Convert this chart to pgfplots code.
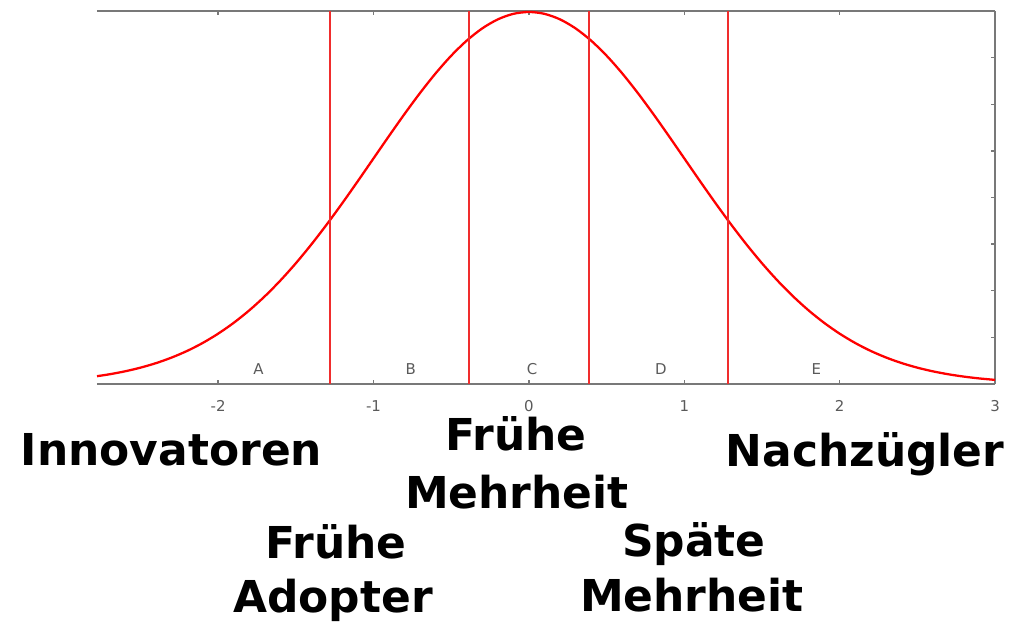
\documentclass[border=0pt]{standalone}
\usepackage{fontspec}
\setmainfont{DejaVu Sans}
\newfontfamily\tickfont{DejaVu Sans}
\usepackage{pgfplots}
\pgfplotsset{compat=1.18}

\definecolor{axisgray}{RGB}{120,120,120}
\definecolor{labelgray}{RGB}{90,90,90}
\definecolor{curvered}{RGB}{255,0,0}
\definecolor{linered}{RGB}{240,45,45}

\newcommand{\biglabel}{\fontsize{25}{30}\selectfont\bfseries}
\newcommand{\smalllabel}{\tickfont\fontsize{8.5}{10}\selectfont}

\begin{document}
\begin{tikzpicture}
\begin{axis}[
    name=ax, at={(0,0)}, anchor=south west,
    scale only axis,
    width=17.96cm, height=7.46cm,
    xmin=-2.78, xmax=3,
    ymin=0, ymax=0.4,
    axis x line=box,
    axis y line*=right,
    axis line style={axisgray, line width=1.1pt},
    tick align=inside,
    major tick length=0.08cm,
    tick style={axisgray, line width=0.8pt},
    xtick={-2,-1,0,1,2,3},
    xtick pos=both,
    ytick={0.05,0.10,0.15,0.20,0.25,0.30,0.35},
    yticklabels={},
    /pgf/number format/assume math mode=true,
    xticklabel style={font=\smalllabel, text=labelgray, yshift=-0.2cm},
    clip=false,
]
% normal density, standard normal
\addplot[curvered, line width=1.3pt, smooth] coordinates {
    (-2.78,0.00837) (-2.7,0.01042) (-2.6,0.01358) (-2.5,0.01753) (-2.4,0.02239)
    (-2.3,0.02833) (-2.2,0.03547) (-2.1,0.04398) (-2.0,0.05399) (-1.9,0.06562)
    (-1.8,0.07895) (-1.7,0.09405) (-1.6,0.11092) (-1.5,0.12952) (-1.4,0.14973)
    (-1.3,0.17137) (-1.2,0.19419) (-1.1,0.21785) (-1.0,0.24197) (-0.9,0.26609)
    (-0.8,0.28969) (-0.7,0.31225) (-0.6,0.33322) (-0.5,0.35207) (-0.4,0.36827)
    (-0.3,0.38139) (-0.2,0.39104) (-0.1,0.39695) (0.0,0.39894)
    (0.1,0.39695) (0.2,0.39104) (0.3,0.38139) (0.4,0.36827) (0.5,0.35207)
    (0.6,0.33322) (0.7,0.31225) (0.8,0.28969) (0.9,0.26609) (1.0,0.24197)
    (1.1,0.21785) (1.2,0.19419) (1.3,0.17137) (1.4,0.14973) (1.5,0.12952)
    (1.6,0.11092) (1.7,0.09405) (1.8,0.07895) (1.9,0.06562) (2.0,0.05399)
    (2.1,0.04398) (2.2,0.03547) (2.3,0.02833) (2.4,0.02239) (2.5,0.01753)
    (2.6,0.01358) (2.7,0.01042) (2.8,0.00792) (2.9,0.00595) (3.0,0.00443)
};
% category boundaries
\addplot[linered, line width=1pt] coordinates {(-1.28,0) (-1.28,0.4)};
\addplot[linered, line width=1pt] coordinates {(-0.385,0) (-0.385,0.4)};
\addplot[linered, line width=1pt] coordinates {(0.385,0) (0.385,0.4)};
\addplot[linered, line width=1pt] coordinates {(1.28,0) (1.28,0.4)};

\node[font=\smalllabel, text=labelgray] at (axis cs:-1.74,0.016) {A};
\node[font=\smalllabel, text=labelgray] at (axis cs:-0.76,0.016) {B};
\node[font=\smalllabel, text=labelgray] at (axis cs:0.02,0.016) {C};
\node[font=\smalllabel, text=labelgray] at (axis cs:0.85,0.016) {D};
\node[font=\smalllabel, text=labelgray] at (axis cs:1.85,0.016) {E};
\end{axis}

\node[anchor=base, font=\biglabel, inner sep=0pt] at (1.49,-1.64) {Innovatoren};
\node[anchor=base, font=\biglabel, inner sep=0pt] at (8.38,-1.34) {Frühe};
\node[anchor=base, font=\biglabel, inner sep=0pt] at (8.40,-2.50) {Mehrheit};
\node[anchor=base, font=\biglabel, inner sep=0pt] at (15.36,-1.66) {Nachzügler};
\node[anchor=base, font=\biglabel, inner sep=0pt] at (4.78,-3.50) {Frühe};
\node[anchor=base, font=\biglabel, inner sep=0pt] at (4.72,-4.58) {Adopter};
\node[anchor=base, font=\biglabel, inner sep=0pt] at (11.94,-3.46) {Späte};
\node[anchor=base, font=\biglabel, inner sep=0pt] at (11.90,-4.56) {Mehrheit};

\pgfresetboundingbox
\useasboundingbox (-1.94,-4.96) rectangle (18.34,7.68);
\end{tikzpicture}
\end{document}
